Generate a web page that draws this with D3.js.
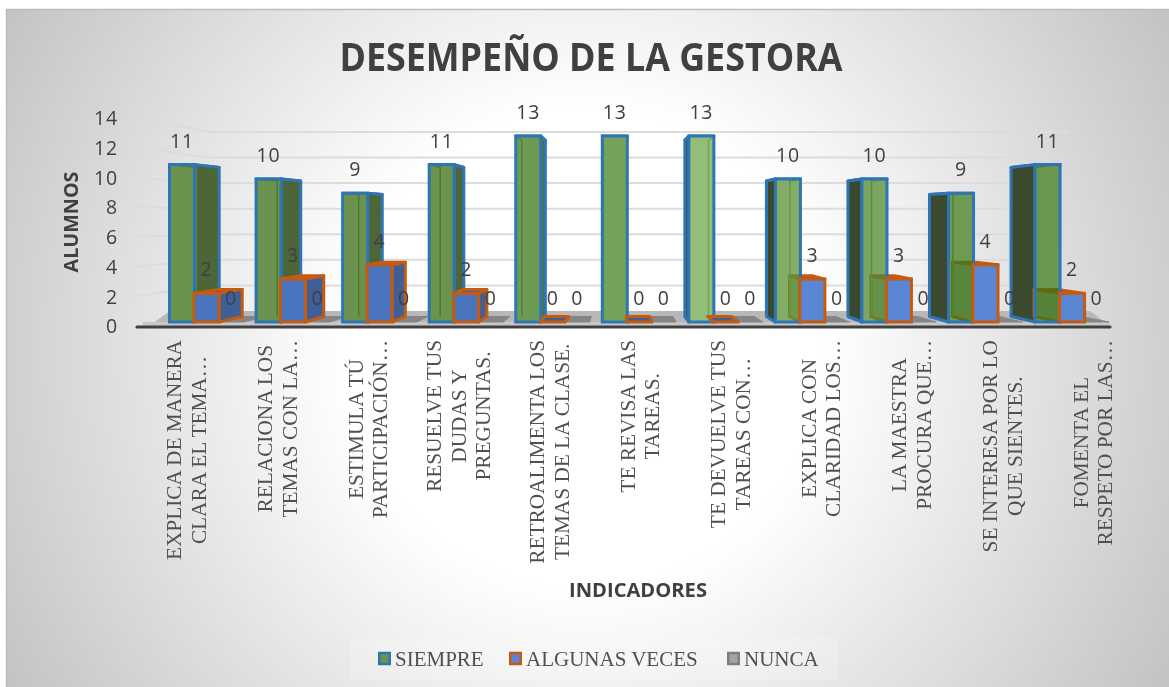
<!DOCTYPE html>
<html lang="es">
<head>
<meta charset="utf-8">
<title>Desempeño de la gestora</title>
<script src="https://cdn.jsdelivr.net/npm/d3@7/dist/d3.min.js"></script>
<style>
html,body{margin:0;padding:0;background:#fff;overflow:hidden}
svg{display:block;filter:blur(0.4px)}
</style>
</head>
<body>
<svg id="chart" width="1169" height="687" role="img"></svg>
<script>
// ---- data ----
const titleText = "DESEMPEÑO DE LA GESTORA";
const yTitle = "ALUMNOS";
const xTitle = "INDICADORES";
const seriesNames = ["SIEMPRE", "ALGUNAS VECES", "NUNCA"];
const categories = [
  "EXPLICA DE MANERA|CLARA EL TEMA…",
  "RELACIONA LOS|TEMAS CON LA…",
  "ESTIMULA TÚ|PARTICIPACIÓN…",
  "RESUELVE TUS|DUDAS Y|PREGUNTAS.",
  "RETROALIMENTA LOS|TEMAS DE LA CLASE.",
  "TE REVISA LAS|TAREAS.",
  "TE DEVUELVE TUS|TAREAS CON…",
  "EXPLICA CON|CLARIDAD LOS…",
  "LA MAESTRA|PROCURA QUE…",
  "SE INTERESA POR LO|QUE SIENTES.",
  "FOMENTA EL|RESPETO POR LAS…"
];
const siempre = [11, 10, 9, 11, 13, 13, 13, 10, 10, 9, 11];
const algunasVeces = [2, 3, 4, 2, 0, 0, 0, 3, 3, 4, 2];
const nunca = [0, 0, 0, 0, 0, 0, 0, 0, 0, 0, 0];
const yTicks = [0, 2, 4, 6, 8, 10, 12, 14];

// ---- styles ----
const greenFaces = ["#6b934f","#6b934f","#6b934f","#6b934f","#6c9a55","#74a25c","#93bd78","#83ad66","#7ba562","#6e9a53","#6c9750"];
const blueFaces  = ["#4a74bd","#4a74bd","#4a74bd","#4a74bd","#4a74bd","#4a74bd","#4a74bd","#5b86d4","#5b86d4","#5b86d4","#5b86d4"];
const BLUE_EDGE = "#2e75b6", ORANGE_EDGE = "#c55a11", TEXT = "#404040", LABEL = "#505050";
const SANS = "'Open Sans', sans-serif", SERIF = "'Liberation Serif', serif";
const FRONT_ALPHA = 0.75;

// ---- layout ----
const W = 1169, H = 687;
const y = d3.scaleLinear().domain([0, 14]).range([326, 118]);
const x = d3.scaleBand().domain(d3.range(categories.length)).range([169.5, 1108.5]).paddingInner(0.152).paddingOuter(0);
const sub = d3.scaleBand().domain(d3.range(3)).range([0, x.bandwidth()]);
const labelX = d3.scalePoint().domain(d3.range(categories.length)).range([193.7, 1100]);
const wallX = d3.scaleLinear().domain([0, 1]).range([137, 1110]);
const backX = d3.scaleLinear().domain([0, 1]).range([210, 1070]);
const VY = 218, VX = 620;
const D_WALL = 0.139, D_FRONT = 0.037, D_BACK = 0.088, KX = 0.058, BAR_W = 25;
const py = (v, d) => y(v) + (VY - y(v)) * d;
const bx = px => px + (VX - px) * KX;
const pts = a => a.map(p => p.join(",")).join(" ");
const throughAlpha = hex => {
  const c = d3.color(hex);
  const f = t => Math.max(0, (t - 255 * (1 - FRONT_ALPHA)) / FRONT_ALPHA);
  return d3.rgb(f(c.r), f(c.g), f(c.b)).formatHex();
};

const svg = d3.select("#chart").attr("viewBox", `0 0 ${W} ${H}`);
const defs = svg.append("defs");
const grad = defs.append("radialGradient").attr("id", "bg").attr("gradientUnits", "userSpaceOnUse")
  .attr("cx", 585).attr("cy", 348).attr("r", 680);
grad.append("stop").attr("offset", "0.35").attr("stop-color", "#ffffff");
grad.append("stop").attr("offset", "1").attr("stop-color", "#c2c2c2");

svg.append("rect").attr("x", 6.5).attr("y", 9.5).attr("width", W).attr("height", H)
  .attr("fill", "url(#bg)").attr("stroke", "#bdbdbd").attr("stroke-width", 1.5);

// title
svg.append("text").attr("x", 591).attr("y", 71).attr("text-anchor", "middle")
  .attr("font-family", SANS).attr("font-weight", 700).attr("font-size", 38.5).attr("fill", TEXT)
  .attr("textLength", 503).attr("lengthAdjust", "spacingAndGlyphs").text(titleText);

// walls
const grid = svg.append("g").attr("fill", "none").attr("stroke", "#dcdcdc").attr("stroke-width", 2);
yTicks.filter(v => v > 0).forEach(v => {
  grid.append("polyline").attr("points", pts([
    [wallX(0), y(v)], [backX(0), py(v, D_WALL)], [backX(1), py(v, D_WALL)]
  ]));
});

// floor
svg.append("polygon").attr("fill", "#b8b8b8").attr("points", pts([
  [wallX(0) + 12, py(0, 0)], [backX(0) - 40, py(0, D_WALL)], [backX(1) + 20, py(0, D_WALL)], [wallX(1), py(0, 0)]
]));
svg.append("rect").attr("x", wallX(0) + 6).attr("y", py(0, D_FRONT)).attr("width", wallX(1) - wallX(0) - 6).attr("height", 4).attr("fill", "#c8c8c8");
svg.append("line").attr("x1", wallX(0)).attr("x2", wallX(1)).attr("y1", y(0) + 1).attr("y2", y(0) + 1)
  .attr("stroke", "#404040").attr("stroke-width", 3.2).attr("stroke-linecap", "round");

// geometry of a box
function box(px, v) {
  const l = px, r = px + BAR_W;
  return {
    l, r, bl: bx(l), br: bx(r),
    ft: py(v, D_FRONT), fb: py(0, D_FRONT),
    bt: py(v, D_BACK), bb: py(0, D_BACK)
  };
}
const faceTop = b => pts([[b.l, b.ft], [b.r, b.ft], [b.br, b.bt], [b.bl, b.bt]]);
const faceLeft = b => pts([[b.l, b.ft], [b.bl, b.bt], [b.bl, b.bb], [b.l, b.fb]]);
const faceRight = b => pts([[b.r, b.ft], [b.br, b.bt], [b.br, b.bb], [b.r, b.fb]]);

const bars = svg.append("g");

categories.forEach((c, i) => {
  const g = bars.append("g").attr("class", "cat");
  const xg = x(i) + sub(0), xo = x(i) + sub(1), xn = x(i) + sub(2);
  const bg = box(xg, siempre[i]), bo = box(xo, algunasVeces[i]), bn = box(xn, nunca[i]);

  // NUNCA: flat patch on the floor
  g.append("polygon").attr("points", faceTop(bn)).attr("fill", "#858585").attr("stroke", "#858585").attr("stroke-width", 1);

  const poly = (points, fill, stroke, sw) => g.append("polygon").attr("points", points)
    .attr("fill", fill).attr("stroke", stroke).attr("stroke-width", sw).attr("stroke-linejoin", "round");

  const leftSide = bg.bl < bg.l, rightSide = bg.br > bg.r;
  // green box, back parts
  poly(faceTop(bg), "#5c8545", BLUE_EDGE, 3);
  if (leftSide) poly(faceLeft(bg), "#3b4a2e", BLUE_EDGE, 3);
  if (rightSide) poly(faceRight(bg), i === 4 ? "#4f7037" : "#4c6638", BLUE_EDGE, 3);

  const drawOrangeBack = seeThrough => {
    poly(faceTop(bo), "#3f5f99", ORANGE_EDGE, 3);
    if (bo.br > bo.r) poly(faceRight(bo), "#3f5f99", ORANGE_EDGE, 3);
    if (bo.bl < bo.l) poly(faceLeft(bo), seeThrough ? "#a8b0a4" : "#3f5f99", ORANGE_EDGE, 3);
  };
  const drawOrangeFront = () => {
    g.append("rect").attr("x", bo.l).attr("y", bo.ft).attr("width", BAR_W).attr("height", bo.fb - bo.ft)
      .attr("fill", blueFaces[i]).attr("stroke", ORANGE_EDGE).attr("stroke-width", 3);
  };
  const drawGreenFront = () => {
    g.append("rect").attr("x", bg.l).attr("y", bg.ft).attr("width", BAR_W).attr("height", bg.fb - bg.ft).attr("fill", "#fff");
    if (i >= 7) {
      // the orange box shows through the translucent green face
      drawOrangeBack(true);
    }
    // inner edges seen through the face
    g.append("polyline").attr("fill", "none").attr("stroke", "#7fa86a").attr("stroke-width", 1.5)
      .attr("points", pts(leftSide
        ? [[bg.br, bg.bb], [bg.br, bg.bt], [bg.r, bg.ft]]
        : [[bg.bl, bg.bb], [bg.bl, bg.bt], [bg.l, bg.ft]]));
    g.append("rect").attr("x", bg.l).attr("y", bg.ft).attr("width", BAR_W).attr("height", bg.fb - bg.ft)
      .attr("fill", throughAlpha(greenFaces[i])).attr("fill-opacity", FRONT_ALPHA)
      .attr("stroke", BLUE_EDGE).attr("stroke-width", 3);
  };

  drawGreenFront();
  if (i < 7) drawOrangeBack(false);
  drawOrangeFront();
});

// value labels
const valueLabels = svg.append("g").attr("font-family", SANS).attr("font-size", 19.5).attr("fill", TEXT)
  .attr("text-anchor", "middle").attr("letter-spacing", 0.8);
[siempre, algunasVeces, nunca].forEach((series, s) => {
  series.forEach((v, i) => {
    valueLabels.append("text")
      .attr("x", x(i) + sub(s) + BAR_W / 2)
      .attr("y", py(v, D_FRONT) - 24).attr("dy", "0.36em").text(v);
  });
});

// y axis
const yAxis = svg.append("g").attr("transform", "translate(123,0.6)")
  .call(d3.axisLeft(y).tickValues(yTicks).tickSize(0).tickPadding(5));
yAxis.select(".domain").remove();
yAxis.selectAll("text").attr("font-family", SANS).attr("font-size", 19.5).attr("fill", TEXT).attr("letter-spacing", 0.8);

svg.append("text").attr("transform", "translate(78,222) rotate(-90)").attr("text-anchor", "middle")
  .attr("font-family", SANS).attr("font-weight", 700).attr("font-size", 19.5).attr("fill", TEXT)
  .attr("textLength", 101).attr("lengthAdjust", "spacingAndGlyphs").text(yTitle);
svg.append("text").attr("x", 638).attr("y", 597).attr("text-anchor", "middle")
  .attr("font-family", SANS).attr("font-weight", 700).attr("font-size", 19.5).attr("fill", TEXT)
  .attr("textLength", 138).attr("lengthAdjust", "spacingAndGlyphs").text(xTitle);

// category labels: rotated, centred lines, longest line starts just under the axis
const LABEL_TOP = 340, LINE = 24.6;
const catG = svg.append("g").attr("font-family", SERIF).attr("font-size", 21.3).attr("fill", LABEL).attr("text-anchor", "middle");
categories.forEach((c, i) => {
  const lines = c.split("|");
  const texts = lines.map((ln, k) => catG.append("text").text(ln));
  const maxLen = d3.max(texts, t => t.node().getComputedTextLength());
  const cy = LABEL_TOP + maxLen / 2;
  texts.forEach((t, k) => {
    const base = labelX(i) + (k - (lines.length - 1) / 2) * LINE;
    t.attr("transform", `translate(${base},${cy}) rotate(-90)`);
  });
});

// legend
svg.append("rect").attr("x", 350).attr("y", 638).attr("width", 488).attr("height", 42).attr("fill", "#fff").attr("fill-opacity", 0.18);
const legendX = [378, 509, 727];
const legendFill = ["#6b934f", "#5b86d4", "#a5a5a5"];
const legendEdge = [BLUE_EDGE, ORANGE_EDGE, "#7f7f7f"];
const leg = svg.append("g");
seriesNames.forEach((n, s) => {
  leg.append("rect").attr("x", legendX[s] + 1.25).attr("y", 653).attr("width", 10.5).attr("height", 11)
    .attr("fill", legendFill[s]).attr("stroke", legendEdge[s]).attr("stroke-width", 2.5);
  leg.append("text").attr("x", legendX[s] + 17).attr("y", 665.5)
    .attr("font-family", SERIF).attr("font-size", 21).attr("fill", LABEL).text(n);
});
</script>
</body>
</html>
